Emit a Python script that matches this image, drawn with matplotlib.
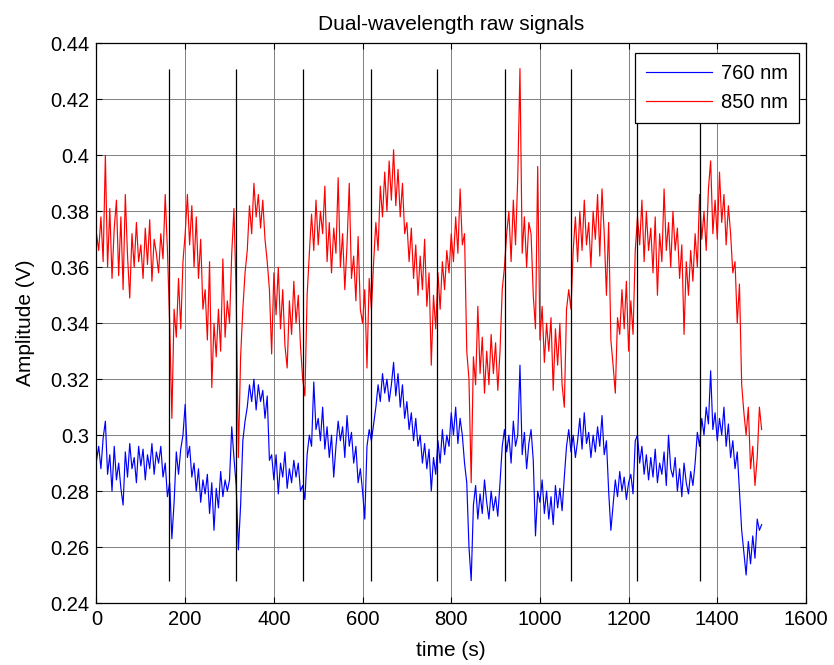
import matplotlib
matplotlib.use('Agg')
import matplotlib.pyplot as plt
import numpy as np

plt.rcParams['font.family'] = ['Liberation Sans', 'DejaVu Sans']

# sample spacing of the digitised signals (s)
step_s = 5

# 850 nm signal (V), one value every 5 s from t = 0
red_850 = [
    .372, .366, .378, .362, .400, .360, .381, .356, .374, .384,
    .357, .378, .352, .386, .364, .349, .372, .360, .376, .362,
    .368, .356, .374, .361, .377, .355, .370, .365, .358, .372,
    .363, .386, .366, .340, .306, .345, .335, .356, .338, .362,
    .372, .386, .368, .382, .360, .378, .356, .370, .345, .352,
    .334, .362, .317, .340, .328, .345, .330, .363, .335, .348,
    .340, .365, .381, .350, .292, .328, .345, .358, .366, .382,
    .372, .390, .378, .386, .374, .384, .370, .362, .352, .329,
    .358, .343, .360, .338, .352, .332, .324, .348, .336, .355,
    .340, .350, .332, .320, .314, .350, .365, .379, .366, .384,
    .368, .380, .372, .389, .362, .376, .358, .374, .365, .392,
    .360, .372, .352, .368, .390, .356, .364, .348, .371, .345,
    .340, .352, .324, .356, .345, .362, .376, .366, .389, .378,
    .394, .380, .398, .384, .402, .382, .395, .378, .390, .372,
    .376, .362, .374, .356, .368, .350, .364, .352, .370, .346,
    .358, .325, .350, .338, .358, .345, .362, .352, .366, .358,
    .372, .362, .378, .365, .388, .368, .372, .330, .320, .283,
    .328, .318, .346, .322, .335, .315, .330, .318, .336, .322,
    .333, .316, .330, .352, .360, .372, .380, .362, .384, .368,
    .392, .431, .365, .378, .360, .376, .372, .350, .338, .396,
    .334, .346, .326, .340, .330, .342, .316, .338, .325, .340,
    .318, .310, .345, .352, .345, .366, .378, .362, .380, .366,
    .384, .368, .376, .360, .380, .370, .386, .364, .388, .372,
    .350, .376, .334, .325, .315, .342, .336, .352, .338, .355,
    .330, .348, .336, .366, .378, .368, .384, .362, .380, .366,
    .374, .358, .378, .350, .372, .362, .388, .366, .376, .360,
    .380, .366, .374, .356, .368, .336, .362, .350, .366, .355,
    .372, .360, .386, .370, .380, .366, .388, .398, .372, .384,
    .370, .394, .376, .386, .368, .382, .372, .358, .362, .340,
    .354, .318, .308, .300, .310, .288, .296, .282, .292, .310,
    .302,
]

# 760 nm signal (V), one value every 5 s from t = 0
blue_760 = [
    .291, .296, .288, .299, .305, .286, .293, .280, .296, .284,
    .290, .281, .275, .294, .285, .297, .288, .292, .283, .296,
    .289, .295, .284, .293, .288, .297, .286, .294, .290, .296,
    .285, .290, .278, .283, .263, .276, .294, .286, .295, .300,
    .311, .292, .296, .285, .290, .280, .288, .276, .284, .279,
    .286, .272, .283, .266, .281, .274, .287, .278, .284, .280,
    .284, .303, .292, .282, .259, .275, .298, .305, .310, .318,
    .312, .320, .309, .318, .312, .316, .306, .314, .291, .293,
    .284, .293, .279, .290, .285, .294, .281, .288, .283, .291,
    .285, .290, .280, .282, .277, .293, .300, .296, .319, .302,
    .306, .298, .310, .295, .303, .292, .300, .285, .296, .305,
    .298, .303, .292, .307, .296, .301, .290, .296, .283, .288,
    .280, .270, .296, .302, .298, .304, .310, .318, .312, .322,
    .315, .320, .312, .318, .326, .314, .322, .310, .318, .306,
    .312, .302, .308, .298, .306, .296, .300, .290, .297, .288,
    .295, .280, .292, .286, .298, .290, .302, .293, .300, .296,
    .308, .300, .310, .297, .306, .300, .290, .283, .260, .248,
    .275, .282, .270, .279, .272, .284, .276, .270, .280, .273,
    .278, .271, .283, .296, .302, .294, .300, .290, .305, .296,
    .300, .325, .293, .301, .288, .297, .302, .291, .264, .280,
    .276, .284, .272, .280, .270, .278, .268, .282, .274, .281,
    .273, .285, .296, .302, .294, .300, .292, .298, .306, .295,
    .308, .297, .301, .292, .300, .294, .303, .296, .307, .293,
    .298, .280, .266, .275, .284, .278, .287, .280, .285, .277,
    .283, .286, .279, .298, .300, .290, .296, .286, .293, .284,
    .292, .285, .295, .283, .290, .286, .294, .282, .300, .288,
    .285, .292, .280, .288, .278, .290, .283, .279, .287, .282,
    .290, .301, .296, .306, .300, .310, .304, .323, .302, .308,
    .298, .306, .300, .310, .296, .304, .292, .298, .288, .294,
    .280, .266, .258, .250, .262, .254, .264, .256, .270, .266,
    .268,
]

# stimulus / event markers (s)
event_times = [164, 315, 465, 620, 768, 921, 1070, 1219, 1360]

x_ticks = [0, 200, 400, 600, 800, 1000, 1200, 1400, 1600]
y_ticks = [0.24, 0.26, 0.28, 0.30, 0.32, 0.34, 0.36, 0.38, 0.40, 0.42, 0.44]
y_tick_labels = ['0.24', '0.26', '0.28', '0.3', '0.32', '0.34', '0.36',
                 '0.38', '0.4', '0.42', '0.44']

series_labels = ['760 nm', '850 nm']
title_text = 'Dual-wavelength raw signals'
x_label = 'time (s)'
y_label = 'Amplitude (V)'

t_red = np.arange(len(red_850)) * step_s
t_blue = np.arange(len(blue_760)) * step_s

fig = plt.figure(figsize=(8.34, 6.65), dpi=100)
ax = fig.add_axes([0.1157, 0.0932, 0.8507, 0.8415])

ax.plot(t_blue, blue_760, color='#0000ff', lw=0.85, label=series_labels[0], zorder=2)
ax.plot(t_red, red_850, color='#ff0000', lw=0.85, label=series_labels[1], zorder=2)

lo = min(min(red_850), min(blue_760))
hi = max(max(red_850), max(blue_760))
ax.vlines(event_times, lo, hi, colors='black', lw=0.9, zorder=3)

ax.set_xlim(0, 1600)
ax.set_ylim(0.24, 0.44)
ax.set_xticks(x_ticks)
ax.set_xticklabels([str(v) for v in x_ticks])
ax.set_yticks(y_ticks)
ax.set_yticklabels(y_tick_labels)

ax.grid(True, color='0.5', lw=0.7, linestyle='-')
ax.set_axisbelow(True)
ax.tick_params(direction='in', top=True, right=True, length=4, width=0.8,
               labelsize=14.5, pad=5, colors='black')
for s in ax.spines.values():
    s.set_linewidth(0.9)
    s.set_color('black')

ax.set_title(title_text, fontsize=15, pad=10)
ax.set_xlabel(x_label, fontsize=15, labelpad=9)
ax.set_ylabel(y_label, fontsize=15, labelpad=11)

leg = ax.legend(loc='upper right', bbox_to_anchor=(0.990, 0.983), borderaxespad=0,
                fontsize=14.5, handlelength=3.25, handletextpad=0.45,
                fancybox=False, framealpha=1, edgecolor='black',
                borderpad=0.55, labelspacing=0.5)
leg.get_frame().set_linewidth(0.9)
leg.set_zorder(10)

fig.savefig('out.png', dpi=100, facecolor='white')
